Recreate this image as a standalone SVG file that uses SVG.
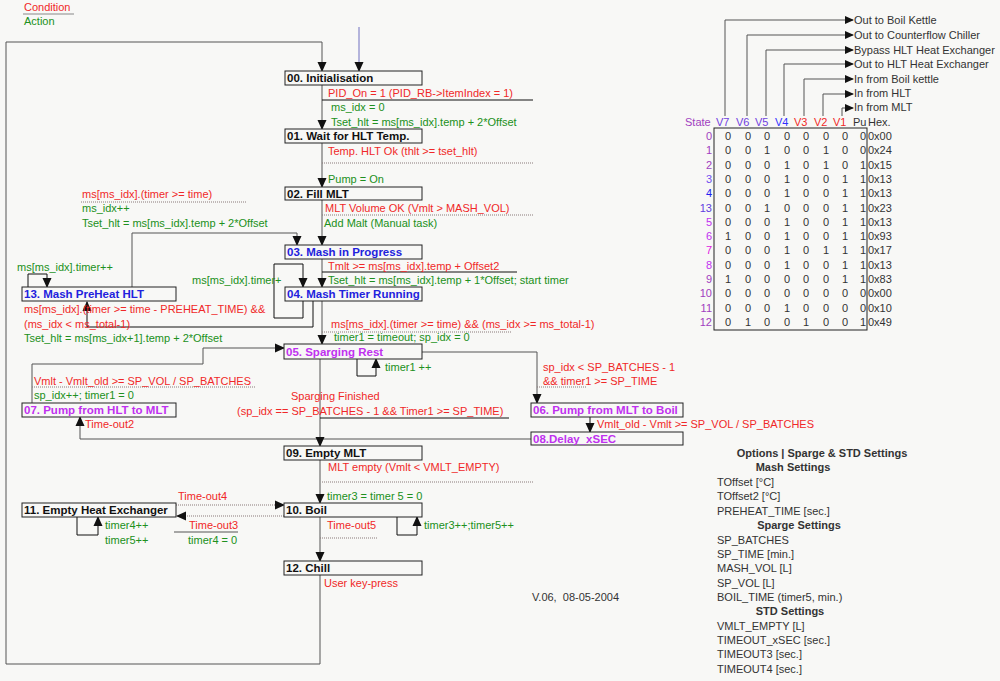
<svg xmlns="http://www.w3.org/2000/svg" width="1000" height="681" viewBox="0 0 1000 681">
<defs>
<marker id="a" markerUnits="userSpaceOnUse" markerWidth="10" markerHeight="10" refX="9" refY="5" orient="auto"><path d="M0,0.5L10,5L0,9.5z" fill="#111"/></marker>
<marker id="s" markerUnits="userSpaceOnUse" markerWidth="9" markerHeight="8" refX="8" refY="4" orient="auto"><path d="M0,0L9,4L0,8z" fill="#111"/></marker>
</defs>
<style>
text{font-family:"Liberation Sans",Arial,sans-serif;font-size:11px}
.b{font-weight:bold}
.box text{font-size:11.5px}
.r{fill:#f02828}.g{fill:#209020}.k{fill:#111}.bl{fill:#2222dd}.m{fill:#c030f0}.p{fill:#a040c0}.v{fill:#7040e0}.d{fill:#333}
.box rect{fill:#f8f8f6;stroke:#222;stroke-width:1}
.c path,.c line{fill:none;stroke:#555;stroke-width:1}
.c .ar{marker-end:url(#a)}
.c .dt{stroke:#8a7a7a;stroke-dasharray:1,1}
.c .sd{stroke:#111}
.vl path{fill:none;stroke:#555;stroke-width:1;marker-end:url(#s)}
.tb text{text-anchor:middle;fill:#333}
</style>
<rect width="1000" height="681" fill="#f8f8f6"/>

<text x="24" y="11" class="r">Condition</text>
<line x1="23" y1="14" x2="74" y2="14" stroke="#888"/>
<text x="24" y="25" class="g">Action</text>

<g id="connectors" class="c">
<path class="ar" d="M320,575V664H6V42H322V71"/>
<path class="ar" d="M359,27V71" style="stroke:#7070c0"/>
<path class="ar" d="M322,85V129"/>
<path class="ar" d="M322,143V187"/>
<path class="ar" d="M322,200V245"/>
<path class="ar" d="M322,259V287"/>
<path class="ar" d="M322,301V344"/>
<path class="ar sd" d="M303,301V318H274V264H303V287"/>
<path class="ar sd" d="M313,301V327H87V302"/>
<path class="ar" d="M132,287V233H297V245"/>
<path class="ar sd" d="M28,287V274H47V287"/>
<path class="ar sd" d="M357,359V376H376V359"/>
<path class="ar" d="M422,352H537V403"/>
<path class="ar sd" d="M590,417V432"/>
<path class="ar" d="M531,439H80V417"/>
<path class="ar" d="M320,359V446"/>
<path class="ar" d="M32,403V364H203V348H284"/>
<path class="ar" d="M320,460V503"/>
<path class="ar" d="M320,517V561"/>
<path class="ar sd" d="M397,517V535H417V517"/>
<path class="ar dt" d="M176,505H284"/>
<path class="ar dt" d="M284,516H177"/>
<path class="ar sd" d="M77,517V535H98V517"/>
<line class="sd" x1="322" y1="100" x2="533" y2="100"/>
<line class="dt" x1="322" y1="163" x2="533" y2="163"/>
<line class="dt" x1="322" y1="215" x2="533" y2="215"/>
<line class="sd" x1="322" y1="272" x2="517" y2="272"/>
<line class="dt" x1="322" y1="332" x2="512" y2="332"/>
<line class="dt" x1="81" y1="202" x2="247" y2="202"/>
<line class="dt" x1="32" y1="387" x2="255" y2="387"/>
<line class="dt" x1="537" y1="387" x2="587" y2="387"/>
<line class="sd" x1="320" y1="418" x2="509" y2="418"/>
<line class="dt" x1="322" y1="482" x2="533" y2="482"/>
<line class="dt" x1="320" y1="538" x2="378" y2="538"/>
<line x1="174" y1="532" x2="238" y2="532"/>
</g>

<g id="n00" class="box"><rect x="285" y="71" width="137" height="14"/><text x="287" y="82" class="b k">00. Initialisation</text></g>
<g id="n01" class="box"><rect x="285" y="129" width="137" height="14"/><text x="287" y="140" class="b k">01. Wait for HLT Temp.</text></g>
<g id="n02" class="box"><rect x="285" y="187" width="137" height="13"/><text x="287" y="198" class="b k">02. Fill MLT</text></g>
<g id="n03" class="box"><rect x="285" y="245" width="137" height="14"/><text x="287" y="256" class="b bl">03. Mash in Progress</text></g>
<g id="n04" class="box"><rect x="285" y="287" width="137" height="14"/><text x="287" y="298" class="b bl">04. Mash Timer Running</text></g>
<g id="n05" class="box"><rect x="284" y="344" width="138" height="15"/><text x="286" y="356" class="b m">05. Sparging Rest</text></g>
<g id="n06" class="box"><rect x="531" y="403" width="152" height="14"/><text x="533" y="414" class="b m">06. Pump from MLT to Boil</text></g>
<g id="n07" class="box"><rect x="22" y="403" width="154" height="14"/><text x="24" y="414" class="b m">07. Pump from HLT to MLT</text></g>
<g id="n08" class="box"><rect x="531" y="432" width="152" height="13"/><text x="533" y="443" class="b m">08.Delay_xSEC</text></g>
<g id="n09" class="box"><rect x="284" y="446" width="138" height="14"/><text x="286" y="457" class="b k">09. Empty MLT</text></g>
<g id="n10" class="box"><rect x="284" y="503" width="138" height="14"/><text x="286" y="514" class="b k">10. Boil</text></g>
<g id="n11" class="box"><rect x="22" y="503" width="154" height="14"/><text x="24" y="514" class="b k">11. Empty Heat Exchanger</text></g>
<g id="n12" class="box"><rect x="284" y="561" width="138" height="14"/><text x="286" y="572" class="b k">12. Chill</text></g>
<g id="n13" class="box"><rect x="22" y="287" width="154" height="14"/><text x="24" y="298" class="b bl">13. Mash PreHeat HLT</text></g>

<g id="labels">
<text x="328" y="97" class="r">PID_On = 1 (PID_RB-&gt;ItemIndex = 1)</text>
<text x="331" y="111" class="g">ms_idx = 0</text>
<text x="331" y="126" class="g">Tset_hlt = ms[ms_idx].temp + 2*Offset</text>
<text x="328" y="155" class="r">Temp. HLT Ok (thlt &gt;= tset_hlt)</text>
<text x="328" y="183" class="g">Pump = On</text>
<text x="325" y="212" class="r">MLT Volume OK (Vmlt &gt; MASH_VOL)</text>
<text x="324" y="227" class="g">Add Malt (Manual task)</text>
<text x="328" y="270" class="r">Tmlt &gt;= ms[ms_idx].temp + Offset2</text>
<text x="328" y="284" class="g">Tset_hlt = ms[ms_idx].temp + 1*Offset; start timer</text>
<text x="331" y="328" class="r">ms[ms_idx].(timer &gt;= time) &amp;&amp; (ms_idx &gt;= ms_total-1)</text>
<text x="334" y="341" class="g">timer1 = timeout; sp_idx = 0</text>
<text x="385" y="371" class="g">timer1 ++</text>
<text x="543" y="371" class="r">sp_idx &lt; SP_BATCHES - 1</text>
<text x="543" y="385" class="r">&amp;&amp; timer1 &gt;= SP_TIME</text>
<text x="291" y="400" class="r">Sparging Finished</text>
<text x="237" y="415" class="r">(sp_idx == SP_BATCHES - 1 &amp;&amp; Timer1 &gt;= SP_TIME)</text>
<text x="597" y="428" class="r">Vmlt_old - Vmlt &gt;= SP_VOL / SP_BATCHES</text>
<text x="328" y="471" class="r">MLT empty (Vmlt &lt; VMLT_EMPTY)</text>
<text x="327" y="500" class="g">timer3 = timer 5 = 0</text>
<text x="327" y="529" class="r">Time-out5</text>
<text x="424" y="529" class="g">timer3++;timer5++</text>
<text x="324" y="587" class="r">User key-press</text>
<text x="178" y="500" class="r">Time-out4</text>
<text x="189" y="529" class="r">Time-out3</text>
<text x="188" y="544" class="g">timer4 = 0</text>
<text x="105" y="529" class="g">timer4++</text>
<text x="105" y="544" class="g">timer5++</text>
<text x="85" y="428" class="r">Time-out2</text>
<text x="34" y="385" class="r">Vmlt - Vmlt_old &gt;= SP_VOL / SP_BATCHES</text>
<text x="34" y="399" class="g">sp_idx++; timer1 = 0</text>
<text x="82" y="198" class="r">ms[ms_idx].(timer &gt;= time)</text>
<text x="82" y="212" class="g">ms_idx++</text>
<text x="82" y="227" class="g">Tset_hlt = ms[ms_idx].temp + 2*Offset</text>
<text x="17" y="271" class="g">ms[ms_idx].timer++</text>
<text x="192" y="284" class="g">ms[ms_idx].timer+</text>
<text x="24" y="313" class="r">ms[ms_idx].(timer &gt;= time - PREHEAT_TIME) &amp;&amp;</text>
<text x="24" y="328" class="r">(ms_idx &lt; ms_total-1)</text>
<text x="24" y="342" class="g">Tset_hlt = ms[ms_idx+1].temp + 2*Offset</text>
<text x="532" y="601" class="d">V.06,&#160; 08-05-2004</text>
</g>

<g id="valves" class="vl">
<path d="M725,116V20H853"/>
<path d="M747,116V35H853"/>
<path d="M766,116V50H853"/>
<path d="M784,116V64H853"/>
<path d="M804,116V79H853"/>
<path d="M823,116V94H853"/>
<path d="M842,116V108H853"/>
</g>
<g id="valve-labels">
<text x="854" y="24" class="d">Out to Boil Kettle</text>
<text x="854" y="39" class="d">Out to Counterflow Chiller</text>
<text x="854" y="54" class="d">Bypass HLT Heat Exchanger</text>
<text x="854" y="68" class="d">Out to HLT Heat Exchanger</text>
<text x="854" y="83" class="d">In from Boil kettle</text>
<text x="854" y="97" class="d">In from HLT</text>
<text x="854" y="111" class="d">In from MLT</text>
<text x="685" y="126" class="p">State</text>
<text x="716" y="126" class="v">V7</text>
<text x="736" y="126" class="v">V6</text>
<text x="755" y="126" class="v">V5</text>
<text x="775" y="126" style="fill:#3030ff">V4</text>
<text x="794" y="126" class="r">V3</text>
<text x="814" y="126" class="r">V2</text>
<text x="833" y="126" class="r">V1</text>
<text x="853" y="126" class="d">Pu</text>
<text x="868" y="126" class="d">Hex.</text>
</g>

<g id="table" class="tb">
<rect x="714" y="128" width="153" height="202" fill="none" stroke="#222"/>
<g style="text-anchor:end">
<text x="712" y="140" style="text-anchor:end;fill:#a040c0">0</text>
<text x="712" y="154" style="text-anchor:end;fill:#a040c0">1</text>
<text x="712" y="169" style="text-anchor:end;fill:#a040c0">2</text>
<text x="712" y="183" style="text-anchor:end;fill:#7050f0">3</text>
<text x="712" y="197" style="text-anchor:end;fill:#2020f0">4</text>
<text x="712" y="212" style="text-anchor:end;fill:#6040e0">13</text>
<text x="712" y="226" style="text-anchor:end;fill:#c030f0">5</text>
<text x="712" y="240" style="text-anchor:end;fill:#c030f0">6</text>
<text x="712" y="254" style="text-anchor:end;fill:#e020e0">7</text>
<text x="712" y="269" style="text-anchor:end;fill:#c030f0">8</text>
<text x="712" y="283" style="text-anchor:end;fill:#a040c0">9</text>
<text x="712" y="297" style="text-anchor:end;fill:#a040c0">10</text>
<text x="712" y="312" style="text-anchor:end;fill:#a040c0">11</text>
<text x="712" y="326" style="text-anchor:end;fill:#a040c0">12</text>
</g>
<text y="140"><tspan x="728">0</tspan><tspan x="748">0</tspan><tspan x="767">0</tspan><tspan x="787">0</tspan><tspan x="806">0</tspan><tspan x="826">0</tspan><tspan x="845">0</tspan><tspan x="863">0</tspan></text>
<text y="154"><tspan x="728">0</tspan><tspan x="748">0</tspan><tspan x="767">1</tspan><tspan x="787">0</tspan><tspan x="806">0</tspan><tspan x="826">1</tspan><tspan x="845">0</tspan><tspan x="863">0</tspan></text>
<text y="169"><tspan x="728">0</tspan><tspan x="748">0</tspan><tspan x="767">0</tspan><tspan x="787">1</tspan><tspan x="806">0</tspan><tspan x="826">1</tspan><tspan x="845">0</tspan><tspan x="863">1</tspan></text>
<text y="183"><tspan x="728">0</tspan><tspan x="748">0</tspan><tspan x="767">0</tspan><tspan x="787">1</tspan><tspan x="806">0</tspan><tspan x="826">0</tspan><tspan x="845">1</tspan><tspan x="863">1</tspan></text>
<text y="197"><tspan x="728">0</tspan><tspan x="748">0</tspan><tspan x="767">0</tspan><tspan x="787">1</tspan><tspan x="806">0</tspan><tspan x="826">0</tspan><tspan x="845">1</tspan><tspan x="863">1</tspan></text>
<text y="212"><tspan x="728">0</tspan><tspan x="748">0</tspan><tspan x="767">1</tspan><tspan x="787">0</tspan><tspan x="806">0</tspan><tspan x="826">0</tspan><tspan x="845">1</tspan><tspan x="863">1</tspan></text>
<text y="226"><tspan x="728">0</tspan><tspan x="748">0</tspan><tspan x="767">0</tspan><tspan x="787">1</tspan><tspan x="806">0</tspan><tspan x="826">0</tspan><tspan x="845">1</tspan><tspan x="863">1</tspan></text>
<text y="240"><tspan x="728">1</tspan><tspan x="748">0</tspan><tspan x="767">0</tspan><tspan x="787">1</tspan><tspan x="806">0</tspan><tspan x="826">0</tspan><tspan x="845">1</tspan><tspan x="863">1</tspan></text>
<text y="254"><tspan x="728">0</tspan><tspan x="748">0</tspan><tspan x="767">0</tspan><tspan x="787">1</tspan><tspan x="806">0</tspan><tspan x="826">1</tspan><tspan x="845">1</tspan><tspan x="863">1</tspan></text>
<text y="269"><tspan x="728">0</tspan><tspan x="748">0</tspan><tspan x="767">0</tspan><tspan x="787">1</tspan><tspan x="806">0</tspan><tspan x="826">0</tspan><tspan x="845">1</tspan><tspan x="863">1</tspan></text>
<text y="283"><tspan x="728">1</tspan><tspan x="748">0</tspan><tspan x="767">0</tspan><tspan x="787">0</tspan><tspan x="806">0</tspan><tspan x="826">0</tspan><tspan x="845">1</tspan><tspan x="863">1</tspan></text>
<text y="297"><tspan x="728">0</tspan><tspan x="748">0</tspan><tspan x="767">0</tspan><tspan x="787">0</tspan><tspan x="806">0</tspan><tspan x="826">0</tspan><tspan x="845">0</tspan><tspan x="863">0</tspan></text>
<text y="312"><tspan x="728">0</tspan><tspan x="748">0</tspan><tspan x="767">0</tspan><tspan x="787">1</tspan><tspan x="806">0</tspan><tspan x="826">0</tspan><tspan x="845">0</tspan><tspan x="863">0</tspan></text>
<text y="326"><tspan x="728">0</tspan><tspan x="748">1</tspan><tspan x="767">0</tspan><tspan x="787">0</tspan><tspan x="806">1</tspan><tspan x="826">0</tspan><tspan x="845">0</tspan><tspan x="863">1</tspan></text>
<g style="text-anchor:start">
<text x="868" y="140" style="text-anchor:start">0x00</text>
<text x="868" y="154" style="text-anchor:start">0x24</text>
<text x="868" y="169" style="text-anchor:start">0x15</text>
<text x="868" y="183" style="text-anchor:start">0x13</text>
<text x="868" y="197" style="text-anchor:start">0x13</text>
<text x="868" y="212" style="text-anchor:start">0x23</text>
<text x="868" y="226" style="text-anchor:start">0x13</text>
<text x="868" y="240" style="text-anchor:start">0x93</text>
<text x="868" y="254" style="text-anchor:start">0x17</text>
<text x="868" y="269" style="text-anchor:start">0x13</text>
<text x="868" y="283" style="text-anchor:start">0x83</text>
<text x="868" y="297" style="text-anchor:start">0x00</text>
<text x="868" y="312" style="text-anchor:start">0x10</text>
<text x="868" y="326" style="text-anchor:start">0x49</text>
</g>
</g>

<g id="settings">
<text x="822" y="457" class="b d" text-anchor="middle">Options | Sparge &amp; STD Settings</text>
<text x="793" y="471" class="b d" text-anchor="middle">Mash Settings</text>
<text x="717" y="486" class="d">TOffset [°C]</text>
<text x="717" y="500" class="d">TOffset2 [°C]</text>
<text x="717" y="515" class="d">PREHEAT_TIME [sec.]</text>
<text x="799" y="529" class="b d" text-anchor="middle">Sparge Settings</text>
<text x="717" y="544" class="d">SP_BATCHES</text>
<text x="717" y="558" class="d">SP_TIME [min.]</text>
<text x="717" y="572" class="d">MASH_VOL [L]</text>
<text x="717" y="587" class="d">SP_VOL [L]</text>
<text x="717" y="601" class="d">BOIL_TIME (timer5, min.)</text>
<text x="790" y="615" class="b d" text-anchor="middle">STD Settings</text>
<text x="717" y="630" class="d">VMLT_EMPTY [L]</text>
<text x="717" y="644" class="d">TIMEOUT_xSEC [sec.]</text>
<text x="717" y="658" class="d">TIMEOUT3 [sec.]</text>
<text x="717" y="673" class="d">TIMEOUT4 [sec.]</text>
</g>
</svg>
